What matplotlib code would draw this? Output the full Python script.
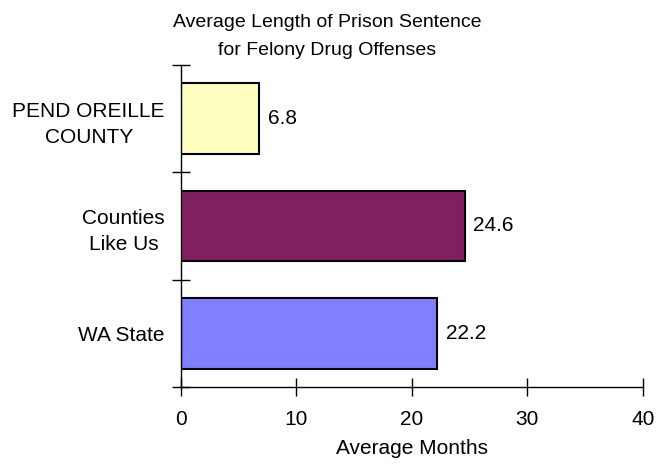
import matplotlib
matplotlib.use('Agg')
import matplotlib.pyplot as plt
import numpy as np

plt.rcParams['font.family'] = ['Liberation Sans', 'DejaVu Sans']

# data (bottom to top)
categories = ['WA State', 'Counties\nLike Us', 'PEND OREILLE\nCOUNTY']
months = [22.2, 24.6, 6.8]
bar_colors = ['#8080FF', '#802060', '#FFFFC0']
x_ticks = [0, 10, 20, 30, 40]
title_lines = ['Average Length of Prison Sentence', 'for Felony Drug Offenses']

fig = plt.figure(figsize=(6.58, 4.65), dpi=100)
ax = fig.add_axes([0.275, 0.168, 0.702, 0.692])

pos = np.arange(len(categories))
ax.barh(pos, months, height=0.66, color=bar_colors, edgecolor='black', linewidth=1.5, zorder=2)

for p, v in zip(pos, months):
    ax.annotate(f'{v:.1f}', xy=(v, p), xytext=(6, 0), textcoords='offset points',
                va='center', ha='left', fontsize=15)

ax.set_xlim(0, 40)
ax.set_ylim(-0.5, len(categories) - 0.5)
ax.set_xticks(x_ticks)
ax.set_xticklabels([str(t) for t in x_ticks], fontsize=15)
ax.set_yticks(pos)
ax.set_yticklabels(categories, fontsize=15, multialignment='center', linespacing=1.5)
ax.set_yticks(np.arange(-0.5, len(categories)), minor=True)

ax.tick_params(axis='y', which='major', length=0, pad=11.5)
ax.tick_params(axis='y', which='minor', direction='inout', length=13, width=1)
ax.tick_params(axis='x', which='major', direction='inout', length=13, width=1, pad=10)

for s in ['top', 'right']:
    ax.spines[s].set_visible(False)
for s in ['left', 'bottom']:
    ax.spines[s].set_linewidth(1)

ax.set_xlabel('Average Months', fontsize=15, labelpad=7)

fig.text(0.497, 1 - 27 / 465, title_lines[0], ha='center', va='baseline', fontsize=14)
fig.text(0.497, 1 - 55 / 465, title_lines[1], ha='center', va='baseline', fontsize=14)

fig.savefig('out.png', dpi=100)
